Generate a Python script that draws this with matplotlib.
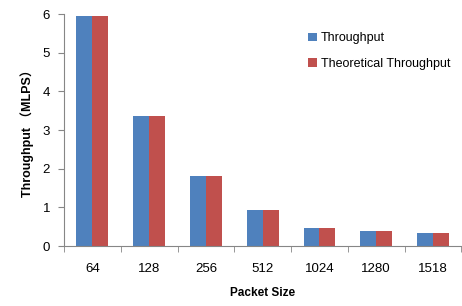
import matplotlib.pyplot as plt
import numpy as np

sizes = ["64", "128", "256", "512", "1024", "1280", "1518"]
throughput = [5.96, 3.37, 1.81, 0.94, 0.47, 0.38, 0.33]
theoretical = [5.96, 3.37, 1.81, 0.94, 0.47, 0.38, 0.33]

plt.rcParams['font.family'] = ['Liberation Sans', 'Noto Sans CJK SC']

fig = plt.figure(figsize=(4.62, 3.06), dpi=100)
ax = fig.add_axes([0.1385, 0.196, 0.86, 0.758])

x = np.arange(len(sizes))
w = 0.28
ax.bar(x - w / 2, throughput, w, color="#4F81BD", label="Throughput")
ax.bar(x + w / 2, theoretical, w, color="#C0504D", label="Theoretical Throughput")

ax.set_xlim(-0.5, len(sizes) - 0.5)
ax.set_ylim(0, 6)
ax.set_yticks(range(0, 7))
ax.set_xticks(x)
ax.set_xticklabels(sizes)
# ticks between categories
ax.set_xticks(np.arange(-0.5, len(sizes)), minor=True)
ax.tick_params(axis="x", which="major", length=0, pad=12, labelsize=9.5)
ax.tick_params(axis="x", which="minor", length=4, color="#868686", direction="out")
ax.tick_params(axis="y", length=4, color="#868686", labelsize=9.5, pad=6)

for s in ["top", "right"]:
    ax.spines[s].set_visible(False)
for s in ["left", "bottom"]:
    ax.spines[s].set_color("#868686")

ax.set_xlabel("Packet Size", fontweight="bold", fontsize=8.5, labelpad=9)
ax.set_ylabel("Throughput （MLPS）", fontweight="bold", fontsize=9, labelpad=6)

ax.legend(loc="upper right", bbox_to_anchor=(1.0, 0.97), frameon=False,
          fontsize=9, handlelength=0.7, handleheight=0.7, handletextpad=0.3,
          labelspacing=1.1)

fig.savefig("out.png", dpi=100)
